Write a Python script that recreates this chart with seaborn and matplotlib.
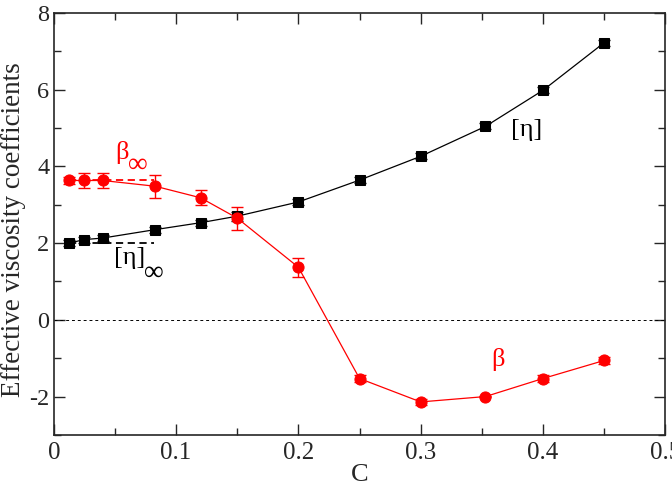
import numpy as np
import pandas as pd
import matplotlib
matplotlib.use("Agg")
import matplotlib.pyplot as plt
import seaborn as sns
from matplotlib.ticker import MultipleLocator

# datos
conc = [0.0125, 0.025, 0.04, 0.083, 0.12, 0.15, 0.2, 0.25, 0.3, 0.353, 0.4, 0.45]
eta = [2.0, 2.09, 2.13, 2.35, 2.53, 2.70, 3.07, 3.64, 4.26, 5.04, 5.98, 7.22]
eta_err = [0.08, 0.08, 0.08, 0.08, 0.08, 0.12, 0.08, 0.08, 0.08, 0.08, 0.08, 0.08]
beta = [3.63, 3.63, 3.63, 3.48, 3.18, 2.65, 1.37, -1.53, -2.14, -2.0, -1.53, -1.06]
beta_err = [0.08, 0.2, 0.2, 0.3, 0.2, 0.3, 0.25, 0.08, 0.08, 0.02, 0.08, 0.08]
eta_inf = 2.0
beta_inf = 3.63
inf_range = [0.0125, 0.082]

df = pd.DataFrame({"C": conc, "eta": eta, "eta_err": eta_err,
                   "beta": beta, "beta_err": beta_err})

sns.set_style("ticks")
plt.rcParams["font.family"] = ["Liberation Serif", "DejaVu Serif"]
plt.rcParams["axes.unicode_minus"] = False

fig = plt.figure(figsize=(6.72, 4.92), dpi=100)
ax = fig.add_axes([0.080, 0.116, 0.910, 0.858])

# linea de cero
ax.axhline(0, color="black", lw=0.7, ls=(0, (3, 3)))

# barras de error
ax.errorbar(df["C"], df["eta"], yerr=df["eta_err"], fmt="none", ecolor="black",
            elinewidth=1, capsize=4.5, capthick=1)
ax.errorbar(df["C"], df["beta"], yerr=df["beta_err"], fmt="none", ecolor="red",
            elinewidth=1, capsize=4.5, capthick=1)

# series
sns.lineplot(data=df, x="C", y="eta", color="black", lw=0.9, marker="s",
             markersize=7.5, markeredgecolor="black", ax=ax)
sns.lineplot(data=df, x="C", y="beta", color="red", lw=0.9, marker="o",
             markersize=8, markeredgecolor="red", ax=ax)

# limites para C->0
ax.hlines(beta_inf, inf_range[0], inf_range[1], colors="red", lw=1.3, ls=(0, (4, 2.5)))
ax.hlines(eta_inf, inf_range[0], inf_range[1], colors="black", lw=1.3, ls=(0, (4, 2.5)))

# etiquetas
ax.text(0.056, 4.35, "β", color="red", fontsize=19, ha="center", va="center")
ax.text(0.069, 4.02, "∞", color="red", fontsize=20, ha="center", va="center")
ax.text(0.062, 1.6, "[η]", color="black", fontsize=19, ha="center", va="center")
ax.text(0.082, 1.22, "∞", color="black", fontsize=20, ha="center", va="center")
ax.text(0.387, 4.95, "[η]", color="black", fontsize=19, ha="center", va="center")
ax.text(0.363, -1.04, "β", color="red", fontsize=19, ha="center", va="center")

ax.set_xlim(0, 0.5)
ax.set_ylim(-3, 8)
ax.xaxis.set_major_locator(MultipleLocator(0.1))
ax.xaxis.set_minor_locator(MultipleLocator(0.05))
ax.yaxis.set_major_locator(MultipleLocator(2))
ax.yaxis.set_minor_locator(MultipleLocator(1))
ax.xaxis.set_major_formatter(plt.FuncFormatter(lambda v, p: "0" if abs(v) < 1e-9 else f"{v:g}"))
ax.tick_params(which="both", direction="in", top=True, right=True, labelsize=18, width=1)
ax.tick_params(which="major", length=8, pad=5)
ax.tick_params(axis="y", which="major", labelsize=17.5, pad=3)
ax.tick_params(which="minor", length=5)
for s in ax.spines.values():
    s.set_linewidth(1.2)
    s.set_visible(True)

ax.set_xlabel("C", fontsize=19, labelpad=0)
ax.set_ylabel("Effective viscosity coefficients", fontsize=19.5)
ax.yaxis.set_label_coords(-0.046, 0.486)

fig.savefig("out.png", dpi=100)
plt.close()
